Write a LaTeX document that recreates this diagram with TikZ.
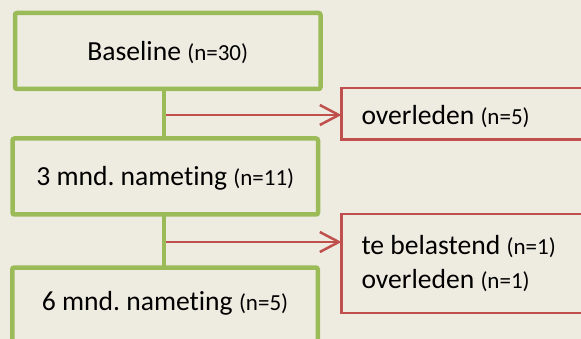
\documentclass[tikz,border=0pt]{standalone}
\usepackage{fontspec}
\setmainfont{Carlito}[Ligatures=CommonOff]
\usetikzlibrary{arrows.meta}
\definecolor{bgtan}{HTML}{EEECE1}
\definecolor{olive}{HTML}{9BBB59}
\definecolor{brick}{HTML}{C0504D}
\newcommand{\nsmall}[1]{{\fontsize{23}{26}\selectfont #1}}
\frenchspacing
\begin{document}
\begin{tikzpicture}[x=1pt,y=-1pt,
  stage/.style={draw=olive, line width=4.5pt, rounded corners=2pt,
    minimum width=305.5pt, minimum height=76pt, outer sep=0pt, inner sep=0pt,
    text height=23pt, text depth=4pt,
    font=\fontsize{27.6}{34}\selectfont},
  exitbox/.style={draw=brick, line width=2.5pt, outer sep=0pt,
    inner xsep=20pt, inner ysep=0pt, text width=218.5pt, align=flush left,
    font=\fontsize{27.6}{34}\selectfont},
  flow/.style={draw=olive, line width=4pt},
  dropout/.style={draw=brick, line width=2.5pt,
    -{Straight Barb[length=19pt,width=20pt]}}
]
% canvas
\useasboundingbox (0,0) rectangle (581,339);
\clip (0,0) rectangle (581,339);
\fill[bgtan] (0,0) rectangle (581,339);

% measurement stages
\node[stage] (b1) at (167.75,51) {Baseline \nsmall{(n=30)}};
\node[stage] (b2) at (165.25,176.5) {3 mnd. nameting \nsmall{(n=11)}};
\node[stage] (b3) at (165,305.5) {\raisebox{4.5pt}{6 mnd. nameting \nsmall{(n=5)}}};

% drop-out boxes
\node[exitbox, minimum height=51.5pt, text height=24pt, text depth=1.5pt]
  (r1) at (470.75,113.75) {overleden \nsmall{(n=5)}};
\node[exitbox, minimum height=99pt] (r2) at (470.75,263.5)
  {te belastend \nsmall{(n=1)}\\overleden \nsmall{(n=1)}};

% spine of the flow chart
\coordinate (spine) at (164,0);
\coordinate (j1) at (164,115);
\coordinate (j2) at (164,242);

\draw[dropout] (j1) -- (j1 -| r1.west);
\draw[dropout] (j2) -- (j2 -| r2.west);

\draw[flow] (b1.south -| spine) -- (b2.north -| spine);
\draw[flow] (b2.south -| spine) -- (b3.north -| spine);
\end{tikzpicture}
\end{document}
